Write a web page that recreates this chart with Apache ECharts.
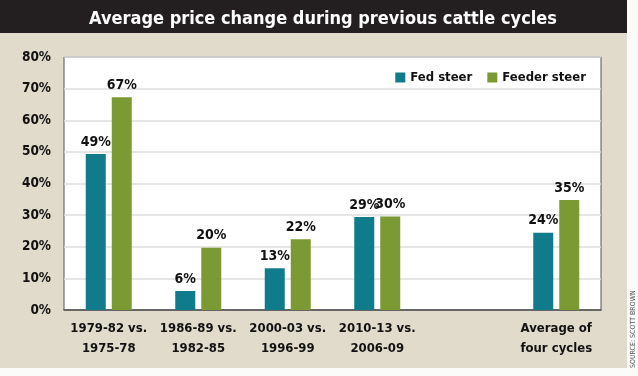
<!DOCTYPE html>
<html>
<head>
<meta charset="utf-8">
<script src="https://cdn.jsdelivr.net/npm/echarts@6/dist/echarts.min.js"></script>
<style>
  html, body { margin: 0; padding: 0; background: #fff; }
  #chart { width: 638px; height: 376px; }
</style>
</head>
<body>
<div id="chart"></div>
<script>
// cycle comparisons, 5th slot left blank like the original
const categories = ['1979-82 vs.\n1975-78', '1986-89 vs.\n1982-85', '2000-03 vs.\n1996-99', '2010-13 vs.\n2006-09', '', 'Average of\nfour cycles'];
const fedSteer = [49.3, 6, 13.2, 29.4, null, 24.4];
const feederSteer = [67.3, 19.7, 22.4, 29.6, null, 34.8];
const yTicks = [0, 10, 20, 30, 40, 50, 60, 70, 80];

const FONT = '"Liberation Sans Narrow", "DejaVu Sans Condensed", sans-serif';
const TEAL = '#107b8a';
const GREEN = '#7b9a33';
const BEIGE = '#e0dbcb';

const chart = echarts.init(document.getElementById('chart'));

function pctLabel(p) {
  return Math.round(p.value) + '%';
}

const labelStyle = {
  show: true, position: 'top', distance: 5, formatter: pctLabel,
  color: '#111', fontFamily: FONT, fontWeight: 'bold', fontSize: 14
};

chart.setOption({
  backgroundColor: BEIGE,
  animation: false,
  textStyle: { fontFamily: FONT },
  graphic: [
    { type: 'rect', shape: { x: 0, y: 0, width: 638, height: 33 }, style: { fill: '#231f20' } },
    { type: 'rect', shape: { x: 627, y: 0, width: 11, height: 376 }, style: { fill: '#fbfbf9' } },
    { type: 'rect', shape: { x: 0, y: 368, width: 638, height: 8 }, style: { fill: '#fbfbf9' } },
    {
      type: 'text', x: 630, y: 368, rotation: Math.PI / 2,
      style: { text: 'SOURCE: SCOTT BROWN', fill: '#555', font: '7px "DejaVu Sans Condensed", sans-serif', align: 'left', verticalAlign: 'top' }
    }
  ],
  title: {
    text: 'Average price change during previous cattle cycles',
    left: 318, top: 5, textAlign: 'center',
    textStyle: { color: '#fff', fontFamily: FONT, fontWeight: 'bold', fontSize: 18 }
  },
  legend: {
    right: 47, top: 66,
    itemWidth: 10, itemHeight: 10, itemGap: 15,
    icon: 'rect',
    textStyle: { fontFamily: FONT, fontWeight: 'bold', fontSize: 13, color: '#111' },
    data: ['Fed steer', 'Feeder steer']
  },
  grid: {
    left: 64, top: 57, right: 37, bottom: 66,
    show: true, backgroundColor: '#fff', borderColor: '#555', borderWidth: 1
  },
  xAxis: {
    type: 'category',
    data: categories,
    axisTick: { show: false },
    axisLine: { lineStyle: { color: '#444', width: 1.5 } },
    axisLabel: {
      color: '#111', fontFamily: FONT, fontWeight: 'bold', fontSize: 13,
      lineHeight: 20, margin: 9, interval: 0
    }
  },
  yAxis: {
    type: 'value',
    min: 0, max: 80, interval: 10,
    axisLine: { show: false },
    axisTick: { show: false },
    splitLine: { lineStyle: { color: '#dcdcdc', width: 1.5 } },
    axisLabel: {
      color: '#111', fontFamily: FONT, fontWeight: 'bold', fontSize: 13.5, margin: 13,
      formatter: v => yTicks.includes(v) ? v + '%' : ''
    }
  },
  series: [
    {
      name: 'Fed steer', type: 'bar', data: fedSteer,
      barWidth: 20, barGap: '30%',
      itemStyle: { color: TEAL },
      label: labelStyle
    },
    {
      name: 'Feeder steer', type: 'bar', data: feederSteer,
      barWidth: 20,
      itemStyle: { color: GREEN },
      label: labelStyle
    }
  ]
});
</script>
</body>
</html>
